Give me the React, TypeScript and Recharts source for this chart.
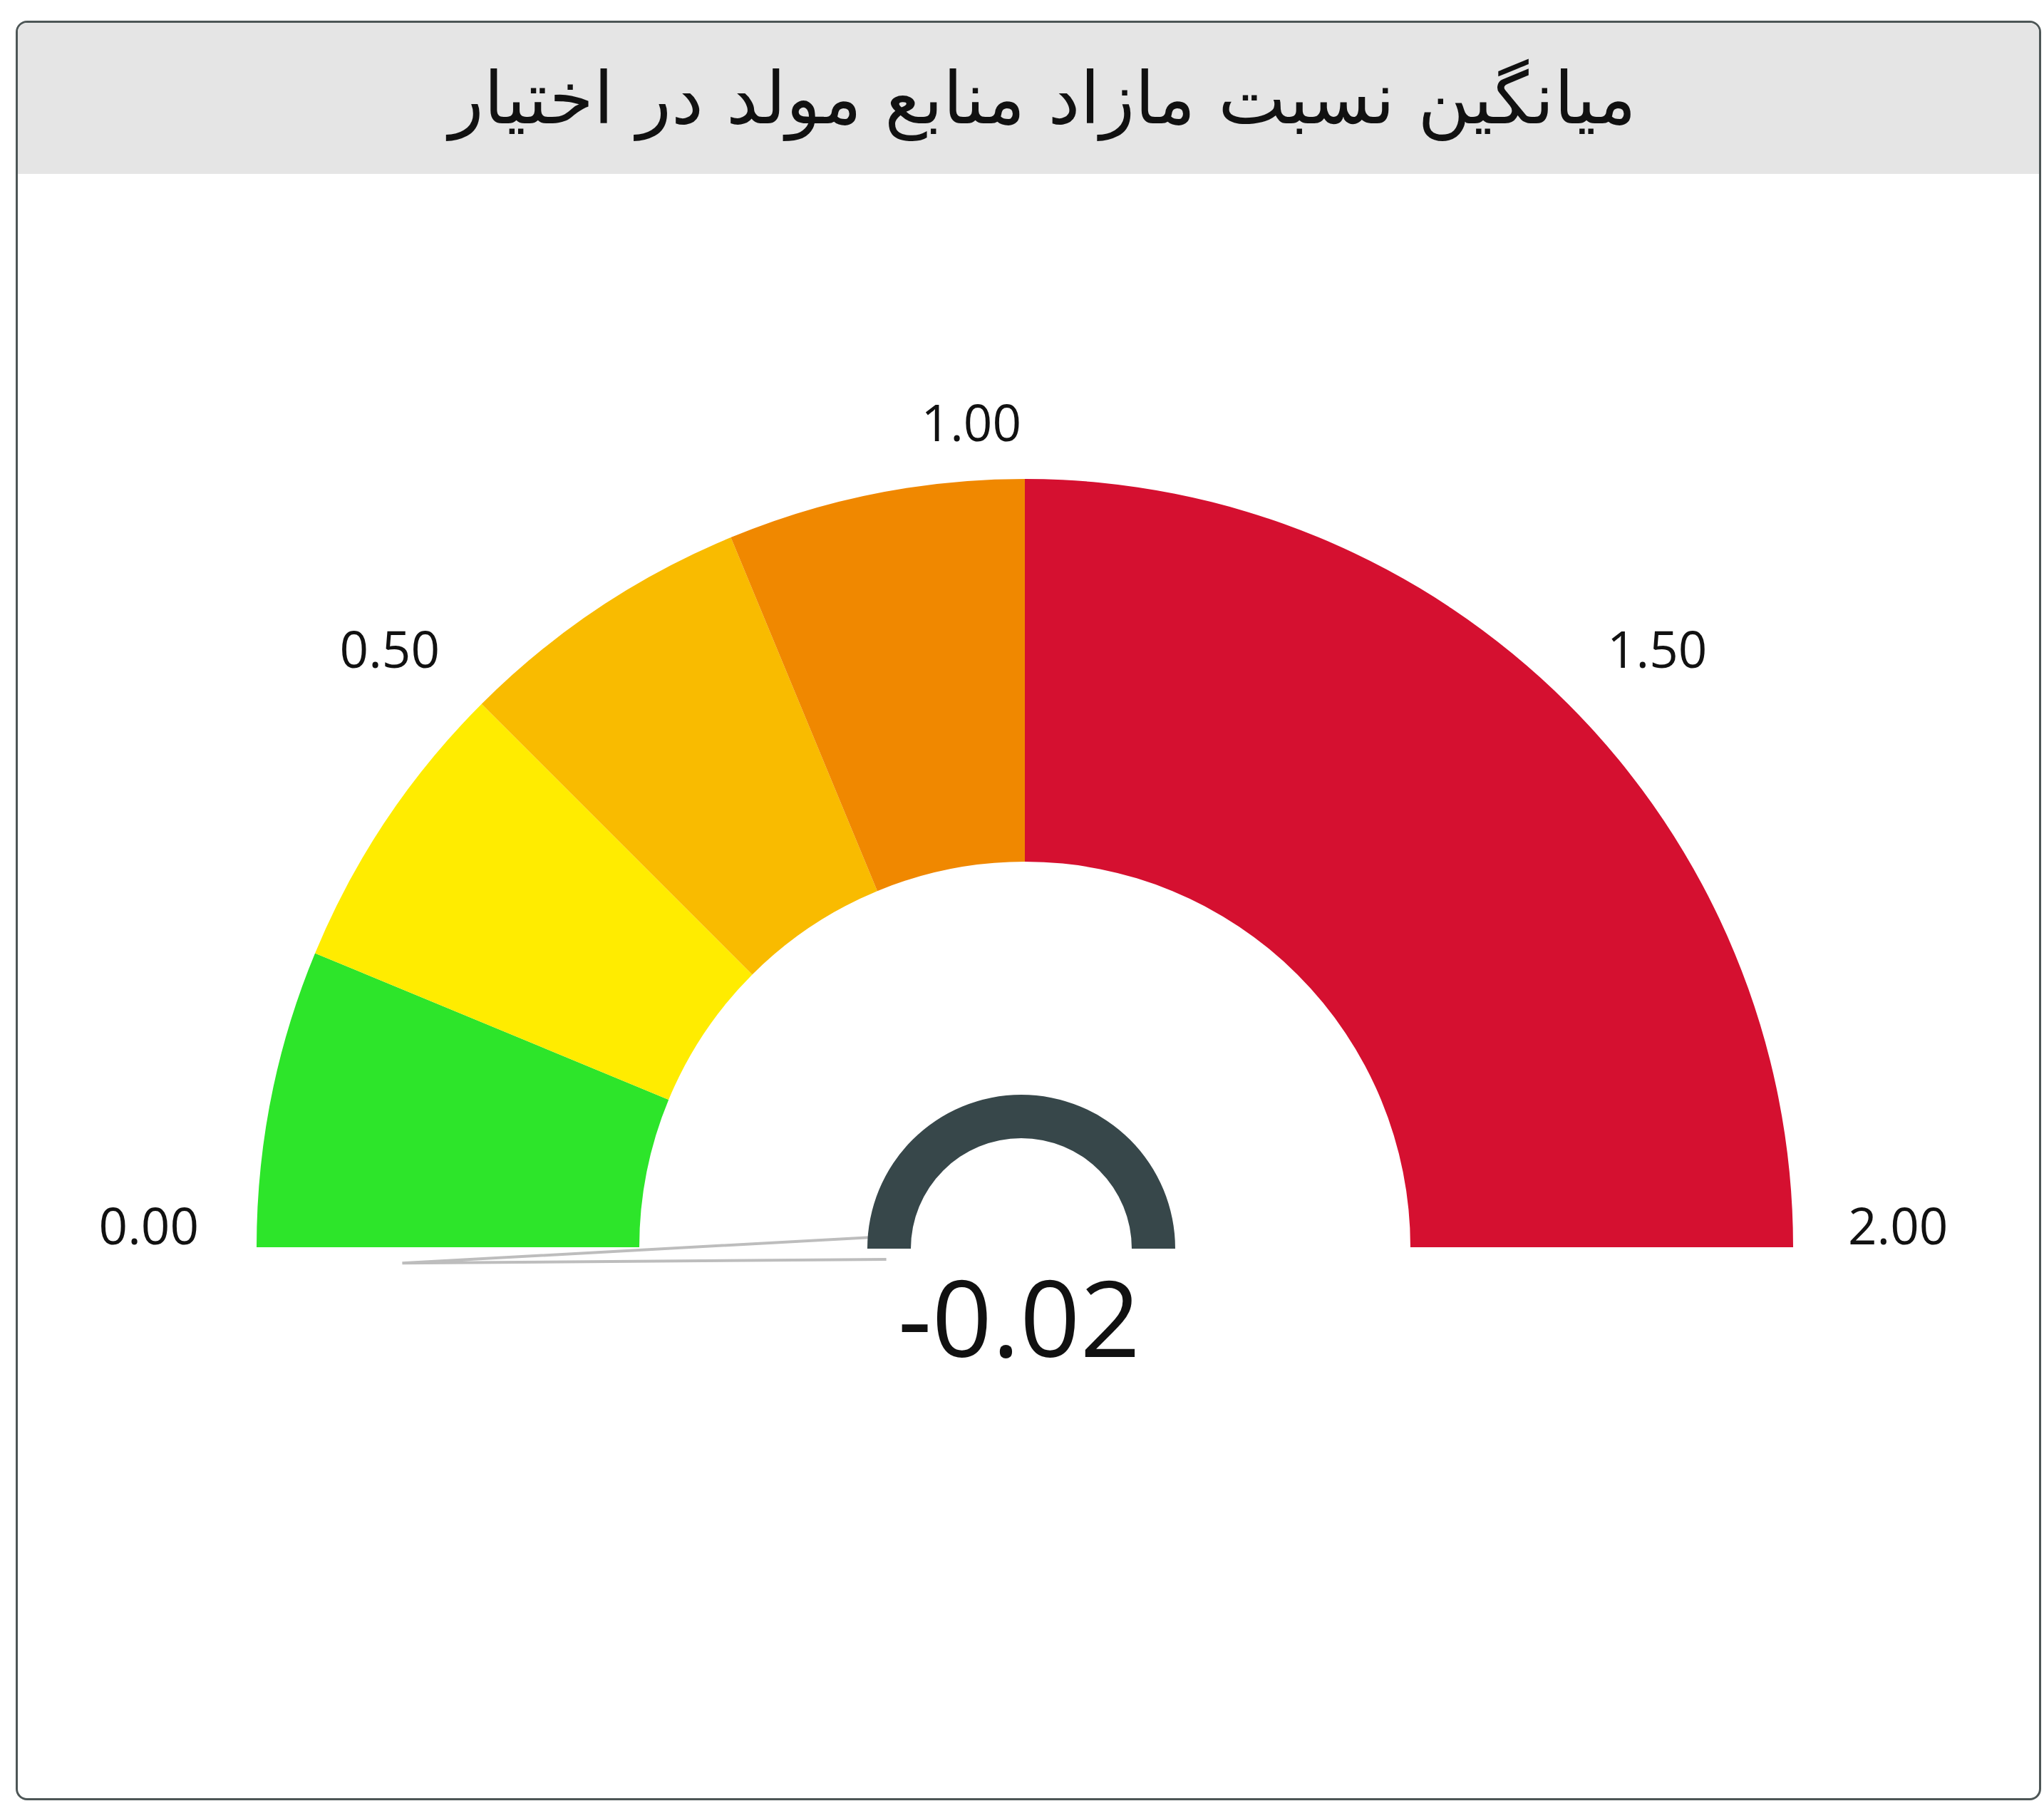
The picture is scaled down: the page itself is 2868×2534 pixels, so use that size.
import React from 'react';
import { PieChart, Pie, Cell } from 'recharts';

const title = 'میانگین نسبت مازاد منابع مولد در اختیار';

// gauge bands and colours
const bandLabels = ['green', 'yellow', 'amber', 'orange', 'red'];
const bandValues = [0.25, 0.25, 0.25, 0.25, 1.0];
const bandColors = ['#2de52a', '#ffec00', '#f9bb00', '#f08800', '#d51030'];

const tickValues = [0, 0.5, 1, 1.5, 2];
const tickLabels = ['0.00', '0.50', '1.00', '1.50', '2.00'];

const gaugeMin = 0;
const gaugeMax = 2;
const currentValue = -0.02;

const W = 2868;
const H = 2534;
const CX = 1433;
const CY = 1745;
const INNER = 541;
const OUTER = 1078;

const bandData = bandLabels.map((name, i) => ({ name, value: bandValues[i] }));
const hubData = [{ name: 'hub', value: 1 }];

// value -> angle (degrees, 180 at min, 0 at max)
const toAngle = (v: number) => 180 - ((v - gaugeMin) / (gaugeMax - gaugeMin)) * 180;
const RAD = Math.PI / 180;

const Needle = () => {
  const a = toAngle(currentValue) * RAD;
  const tipR = 869;
  const baseR = 190;
  const half = 16;
  const ux = Math.cos(a);
  const uy = -Math.sin(a);
  const px = -uy;
  const py = ux;
  const tip = [CX + ux * tipR, CY + uy * tipR];
  const b1 = [CX + ux * baseR + px * half, CY + uy * baseR + py * half];
  const b2 = [CX + ux * baseR - px * half, CY + uy * baseR - py * half];
  return (
    <polyline
      points={`${b1[0]},${b1[1]} ${tip[0]},${tip[1]} ${b2[0]},${b2[1]}`}
      fill="none"
      stroke="#bdbdbd"
      strokeWidth={4}
    />
  );
};

const Ticks = () => {
  const r = 1154;
  return (
    <g>
      {tickValues.map((v, i) => {
        const deg = toAngle(v);
        const a = deg * RAD;
        const x = CX + r * Math.cos(a) + (deg < 90 ? 6 : 0);
        const y = CY - r * Math.sin(a) - 27 * Math.abs(Math.cos(a));
        return (
          <text
            key={tickLabels[i]}
            x={x}
            y={y}
            textAnchor={deg >= 90 ? 'end' : 'start'}
            dominantBaseline="central"
            fontFamily="'Open Sans', sans-serif"
            fontSize={71}
            fill="#111"
          >
            {tickLabels[i]}
          </text>
        );
      })}
    </g>
  );
};

export default function App() {
  return (
    <div style={{ position: 'absolute', left: 0, top: 0, width: W, height: H, background: '#fff' }}>
      <div
        style={{
          position: 'absolute',
          left: 22,
          top: 29,
          width: 2842,
          height: 2497,
          border: '3px solid #4d5656',
          borderRadius: 16,
          overflow: 'hidden',
          boxSizing: 'border-box',
        }}
      >
        <div
          style={{
            height: 212,
            background: '#e5e5e5',
            display: 'flex',
            alignItems: 'center',
            justifyContent: 'center',
            direction: 'rtl',
            fontFamily: "'DejaVu Sans', sans-serif",
            fontSize: 101,
            color: '#111',
            paddingLeft: 40,
          }}
        >
          {title}
        </div>
      </div>
      <div style={{ position: 'absolute', left: 0, top: 0 }}>
        <PieChart width={W} height={H}>
          <Pie
            data={bandData}
            dataKey="value"
            cx={CX}
            cy={CY}
            startAngle={180}
            endAngle={0}
            innerRadius={INNER}
            outerRadius={OUTER}
            stroke="none"
            isAnimationActive={false}
          >
            {bandData.map((d, i) => (
              <Cell key={d.name} fill={bandColors[i]} />
            ))}
          </Pie>
          <Ticks />
          <Needle />
          <Pie
            data={hubData}
            dataKey="value"
            cx={CX - 5}
            cy={CY + 2}
            startAngle={180}
            endAngle={0}
            innerRadius={155}
            outerRadius={216}
            fill="#37474a"
            stroke="none"
            isAnimationActive={false}
          />
          <text
            x={CX - 3}
            y={1904}
            textAnchor="middle"
            fontFamily="'Open Sans', sans-serif"
            fontSize={148}
            fill="#111"
          >
            {currentValue.toFixed(2)}
          </text>
        </PieChart>
      </div>
    </div>
  );
}
